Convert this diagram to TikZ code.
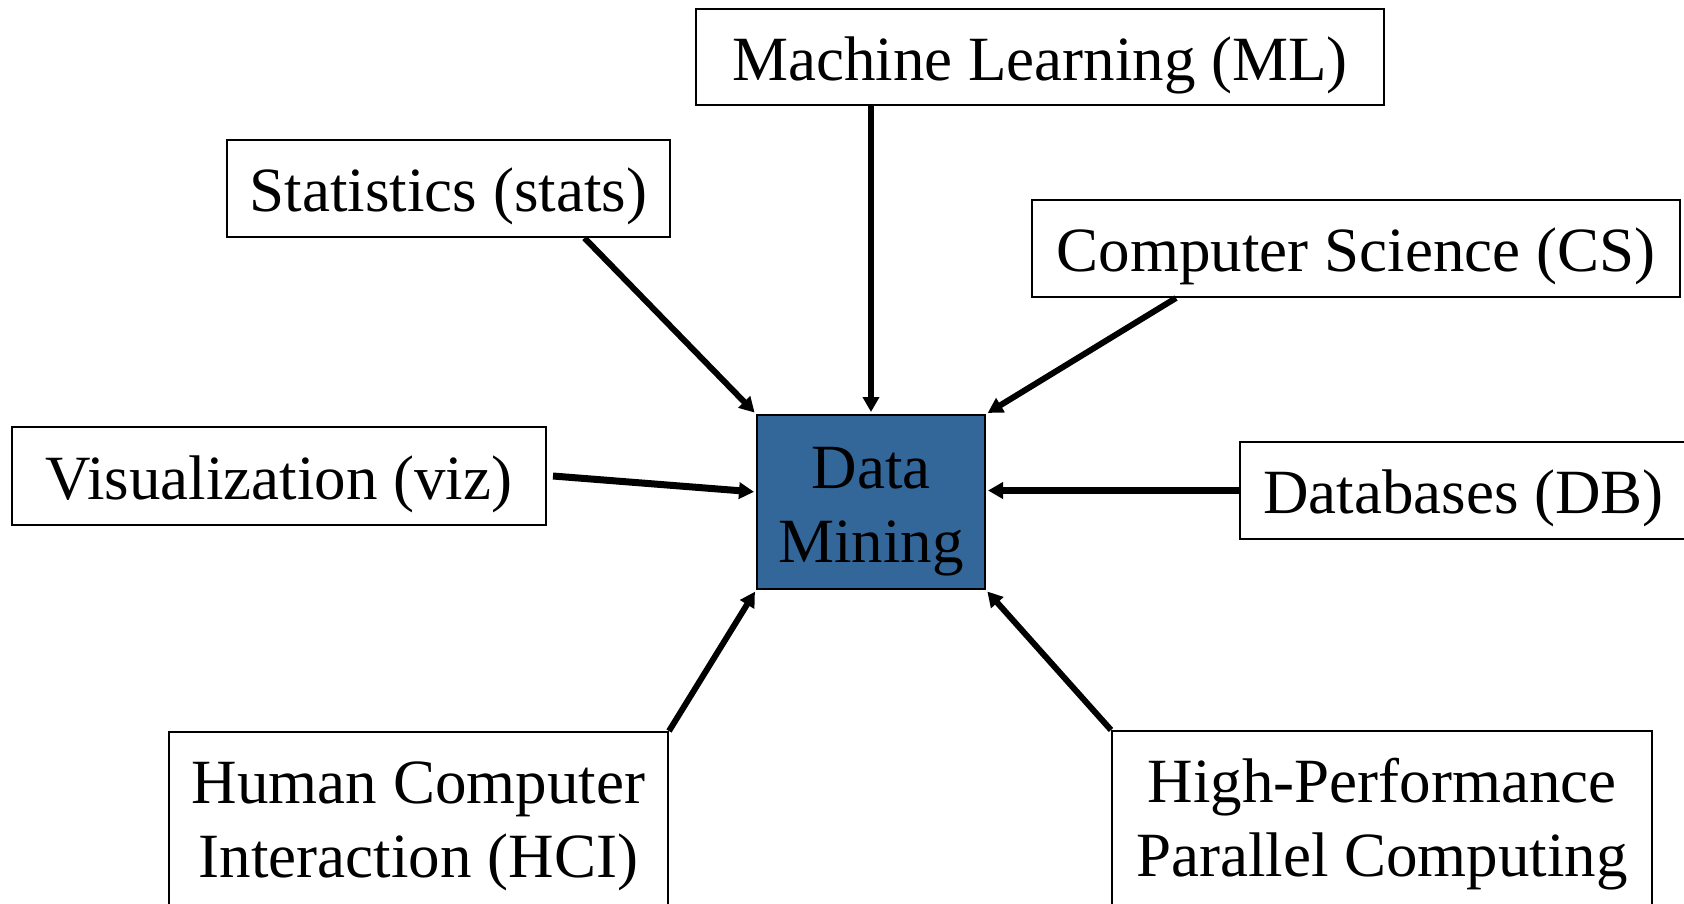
\documentclass[tikz,border=0pt]{standalone}
\usepackage{fontspec}
\setmainfont{Liberation Serif}
\usetikzlibrary{arrows.meta}
\definecolor{dmblue}{RGB}{51,102,153}
\begin{document}
\begin{tikzpicture}[x=1pt, y=-1pt]
        \tikzstyle{n} = [draw, rectangle, line width=2pt, align=center, inner sep=0pt, text height=46pt, text depth=0pt, font=\fontsize{63}{74}\selectfont]
        \tikzstyle{two} = [text height=120pt]
        \tikzstyle{low} = [two, text depth=60pt, minimum height=230pt]
        \tikzstyle{a} = [-{Triangle[length=15pt, width=16pt]}, line width=6pt, shorten >=2pt]

        \useasboundingbox (0,0) rectangle (1684,903);
        \clip (0,0) rectangle (1684,903);

        \node (dm) [n, two, fill=dmblue, minimum width=228pt, minimum height=174pt] at (871,502) {Data \\ Mining};

        \node (ml) [n, minimum width=688pt, minimum height=96pt] at (1040,57) {Machine Learning (ML)};
        \node (stats) [n, minimum width=443pt, minimum height=97pt] at (448.5,188.5) {Statistics (stats)};
        \node (cs) [n, minimum width=648pt, minimum height=97pt] at (1356,248.5) {Computer Science (CS)};
        \node (viz) [n, minimum width=534pt, minimum height=98pt] at (279,476) {Visualization (viz)};
        \node (db) [n, minimum width=447pt, minimum height=97pt] at (1463.5,490.5) {Databases (DB)};
        \node (hci) [n, low, minimum width=499pt] at (418.5,847) {Human Computer \\ Interaction (HCI)};
        \node (hpc) [n, low, minimum width=540pt] at (1382,846) {High-Performance \\ Parallel Computing};

        \draw [a] (ml.south -| dm.north) -- (dm.north);
        \draw [a] ([xshift=136pt]stats.south) -- (dm.north west);
        \draw [a] ([xshift=-180pt]cs.south) -- (dm.north east);
        \draw [a, line width=7pt] ([xshift=6pt]viz.east) -- ([yshift=10pt]dm.west);
        \draw [a, line width=7pt] (db.west) -- (db.west -| dm.east);
        \draw [a] (hci.north east) -- (dm.south west);
        \draw [a] (hpc.north west) -- (dm.south east);

    \end{tikzpicture}
\end{document}
